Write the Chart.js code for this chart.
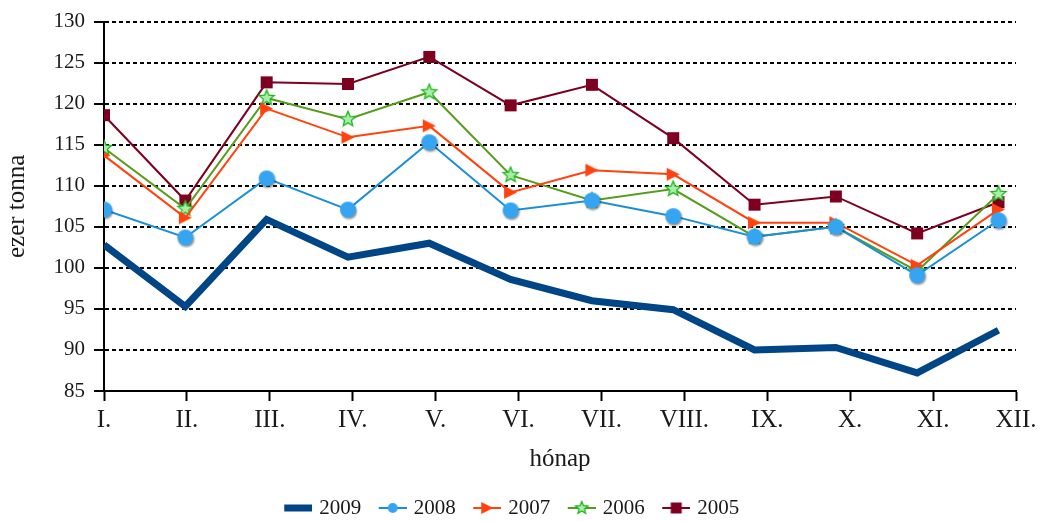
<!DOCTYPE html>
<html>
<head>
<meta charset="utf-8">
<script src="https://cdn.jsdelivr.net/npm/chart.js@4/dist/chart.umd.min.js"></script>
<style>
html,body{margin:0;padding:0;background:#fff;}
#wrap{width:1043px;height:521px;}
</style>
</head>
<body>
<div id="wrap"><canvas id="c" width="1043" height="521"></canvas></div>
<script>
// ---- data ----
const months = ['I.','II.','III.','IV.','V.','VI.','VII.','VIII.','IX.','X.','XI.','XII.'];
const yTicks = [85, 90, 95, 100, 105, 110, 115, 120, 125, 130];
const seriesNames = ['2009','2008','2007','2006','2005'];
const y2009 = [102.8, 95.3, 105.9, 101.3, 103.0, 98.6, 96.0, 94.9, 90.0, 90.3, 87.2, 92.4];
const y2008 = [107.1, 103.7, 110.9, 107.1, 115.3, 107.0, 108.2, 106.3, 103.8, 105.0, 99.1, 105.8];
const y2007 = [113.7, 106.1, 119.4, 115.9, 117.3, 109.2, 111.9, 111.4, 105.5, 105.5, 100.3, 107.1];
const y2006 = [114.6, 107.2, 120.7, 118.1, 121.4, 111.3, 108.2, 109.6, 103.8, 105.0, 99.6, 109.0];
const y2005 = [118.6, 108.2, 122.6, 122.4, 125.7, 119.8, 122.3, 115.8, 107.7, 108.7, 104.2, 108.0];

// ---- styling ----
const TICK_STEP = 1.0196;   // category ticks are spaced slightly wider than the data points
const FONT = "'Liberation Serif', 'Times New Roman', serif";
const TEXT = '#1a1a1a';

function drawMarker(ctx, kind, cx, cy, s, shadow) {
  ctx.save();
  if (kind === 'circle') {
    if (shadow) {
      ctx.shadowColor = 'rgba(0,0,0,0.45)';
      ctx.shadowOffsetX = 1; ctx.shadowOffsetY = 1.5; ctx.shadowBlur = 2;
    }
    ctx.fillStyle = '#35a5f2';
    ctx.beginPath(); ctx.arc(cx, cy, s / 2, 0, Math.PI * 2); ctx.fill();
  } else if (kind === 'triangle') {
    ctx.fillStyle = '#ff420e';
    ctx.beginPath();
    ctx.moveTo(cx + s / 2, cy);
    ctx.lineTo(cx - s / 2, cy - s / 2);
    ctx.lineTo(cx - s / 2, cy + s / 2);
    ctx.closePath(); ctx.fill();
  } else if (kind === 'star') {
    const ro = s / 2, ri = ro * 0.45;
    ctx.beginPath();
    for (let i = 0; i < 10; i++) {
      const r = i % 2 === 0 ? ro : ri;
      const a = -Math.PI / 2 + i * Math.PI / 5;
      const px = cx + r * Math.cos(a), py = cy + r * Math.sin(a);
      if (i === 0) ctx.moveTo(px, py); else ctx.lineTo(px, py);
    }
    ctx.closePath();
    ctx.fillStyle = '#a8eea8';
    ctx.fill();
    ctx.lineWidth = 1.3;
    ctx.strokeStyle = '#1fb41f';
    ctx.stroke();
  } else if (kind === 'square') {
    ctx.fillStyle = '#7e0021';
    ctx.fillRect(cx - s / 2, cy - s / 2, s, s);
  }
  ctx.restore();
}

function markerCanvas(kind, s) {
  const c = document.createElement('canvas');
  const d = Math.ceil(s + 6);
  c.width = d; c.height = d;
  drawMarker(c.getContext('2d'), kind, d / 2, d / 2, s, true);
  return c;
}

function legendIcon(color, lw, kind, s) {
  const c = document.createElement('canvas');
  c.width = 39; c.height = 24;
  const ctx = c.getContext('2d');
  ctx.strokeStyle = color; ctx.lineWidth = lw;
  ctx.beginPath(); ctx.moveTo(11, 12); ctx.lineTo(39, 12); ctx.stroke();
  if (kind) drawMarker(ctx, kind, 25, 12, s, false);
  return c;
}

const styles = {
  '2009': {color: '#004586', width: 7, marker: null, size: 0, lsize: 0},
  '2008': {color: '#1a8fd8', width: 2, marker: 'circle', size: 16, lsize: 10},
  '2007': {color: '#ff420e', width: 2, marker: 'triangle', size: 13, lsize: 12},
  '2006': {color: '#579d1c', width: 2, marker: 'star', size: 16, lsize: 13},
  '2005': {color: '#7e0021', width: 2, marker: 'square', size: 12, lsize: 11}
};
const values = {'2009': y2009, '2008': y2008, '2007': y2007, '2006': y2006, '2005': y2005};

const datasets = seriesNames.map(name => {
  const st = styles[name];
  return {
    label: name,
    data: values[name].map((v, i) => ({x: i, y: v})),
    borderColor: st.color,
    backgroundColor: st.color,
    borderWidth: st.width,
    tension: 0,
    borderJoinStyle: 'miter',
    pointStyle: st.marker ? markerCanvas(st.marker, st.size) : false,
    pointRadius: st.marker ? st.size / 2 : 0,
    pointHoverRadius: st.marker ? st.size / 2 : 0,
    legendIcon: legendIcon(st.color, st.width, st.marker, st.lsize)
  };
});

new Chart(document.getElementById('c'), {
  type: 'line',
  data: {datasets},
  options: {
    responsive: false,
    animation: false,
    devicePixelRatio: 1,
    layout: {padding: {top: 19, right: 27, left: 0, bottom: -7.5}},
    plugins: {
      tooltip: {enabled: false},
      legend: {
        position: 'bottom',
        labels: {
          usePointStyle: true,
          pointStyleWidth: 32,
          padding: 10,
          color: TEXT,
          font: {family: FONT, size: 21},
          generateLabels: (chart) => chart.data.datasets.map((ds, i) => ({
            text: ds.label,
            pointStyle: ds.legendIcon,
            fillStyle: ds.borderColor,
            strokeStyle: ds.borderColor,
            lineWidth: 0,
            hidden: false,
            datasetIndex: i,
            fontColor: TEXT
          }))
        }
      }
    },
    scales: {
      x: {
        type: 'linear',
        min: 0,
        max: (months.length - 1) * TICK_STEP,
        afterBuildTicks: (scale) => { scale.ticks = months.map((m, i) => ({value: i * TICK_STEP})); },
        afterFit: (scale) => { scale.height = 96.5; },
        ticks: {
          autoSkip: false, maxRotation: 0, padding: 4,
          color: TEXT, font: {family: FONT, size: 25},
          callback: (v, i) => months[i]
        },
        grid: {drawOnChartArea: false, drawTicks: true, tickLength: 10, tickWidth: 2, tickColor: '#000', color: '#000'},
        border: {display: true, color: '#000', width: 2},
        title: {display: true, text: 'hónap', color: TEXT, font: {family: FONT, size: 25}, padding: {top: 0, bottom: 13.5}}
      },
      y: {
        min: 85, max: 130,
        afterBuildTicks: (scale) => { scale.ticks = yTicks.map(v => ({value: v})); },
        afterFit: (scale) => { scale.width = 104; },
        ticks: {padding: 9, color: TEXT, font: {family: FONT, size: 21}},
        grid: {color: '#000', lineWidth: 2, tickLength: 10, tickWidth: 2, tickColor: '#000', tickBorderDash: []},
        border: {display: true, color: '#000', width: 2, dash: [4, 3]},
        title: {display: true, text: 'ezer tonna', color: TEXT, font: {family: FONT, size: 25}, padding: {top: 2, bottom: 0}}
      }
    }
  }
});
</script>
</body>
</html>
